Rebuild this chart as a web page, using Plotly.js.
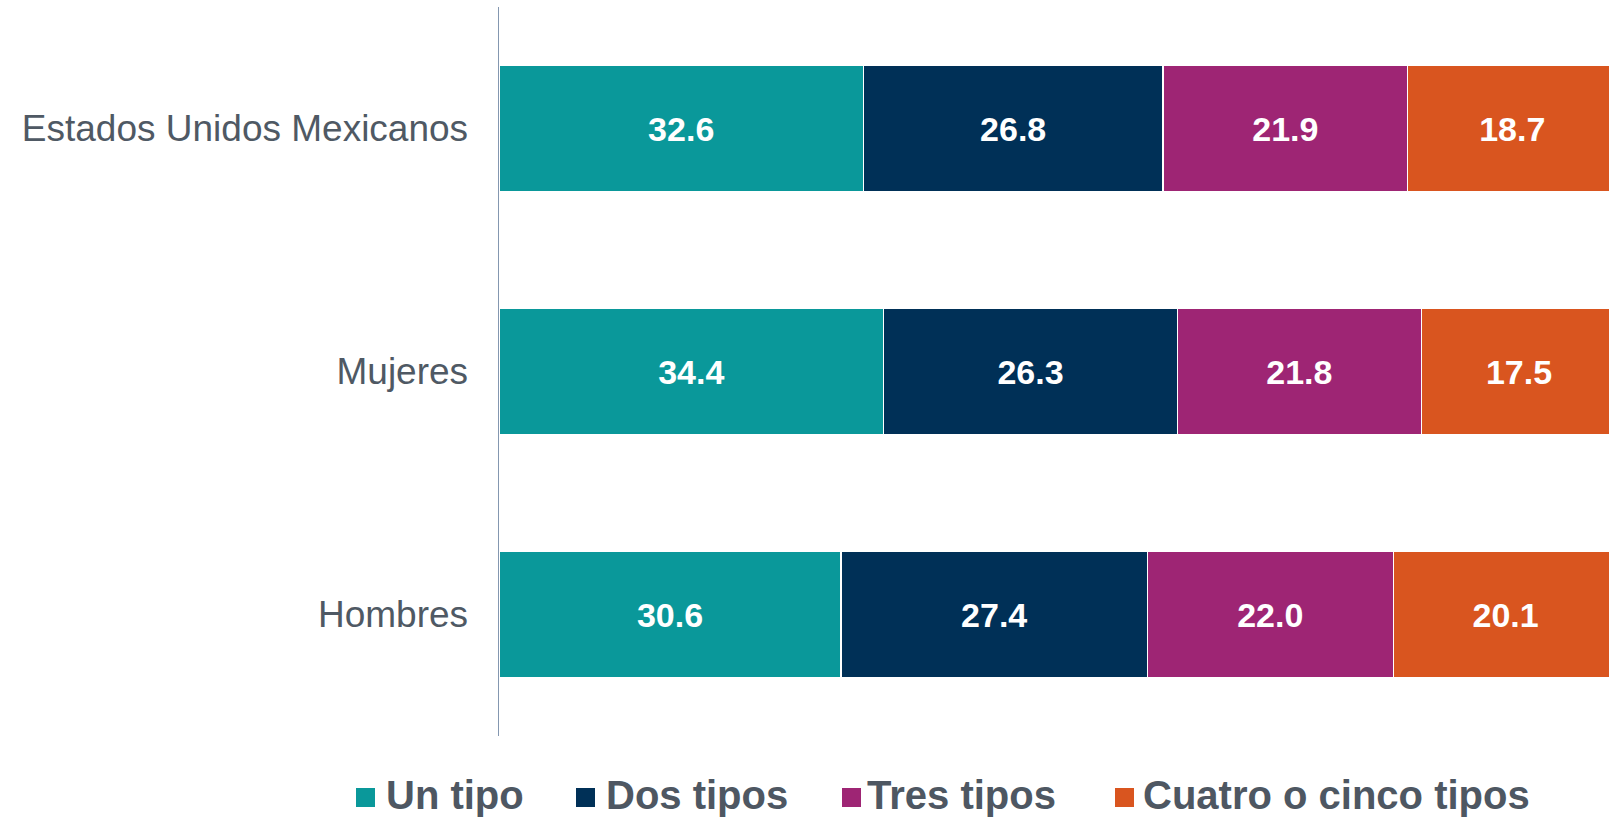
<!DOCTYPE html>
<html>
<head>
<meta charset="utf-8">
<script src="https://cdn.plot.ly/plotly-3.0.1.min.js"></script>
<style>
  html, body { margin: 0; padding: 0; background: #ffffff; }
  #chart { width: 1609px; height: 819px; }
</style>
</head>
<body>
<div id="chart"></div>
<script>
// ---- Data ----
const categories = ["Estados Unidos Mexicanos", "Mujeres", "Hombres"];
const seriesNames = ["Un tipo", "Dos tipos", "Tres tipos", "Cuatro o cinco tipos"];
const unTipo = [32.6, 34.4, 30.6];
const dosTipos = [26.8, 26.3, 27.4];
const tresTipos = [21.9, 21.8, 22.0];
const cuatroCincoTipos = [18.7, 17.5, 20.1];

// ---- Styles ----
const seriesValues = [unTipo, dosTipos, tresTipos, cuatroCincoTipos];
const colors = ["#0A989A", "#003057", "#9E2574", "#D9551F"];
const FONT = "Arial";

const W = 1609, H = 819;
const M = { l: 499, r: 0, t: 7, b: 83 };
const plotW = W - M.l - M.r, plotH = H - M.t - M.b;
const px2x = px => (px - M.l) / plotW;
const px2y = py => (H - M.b - py) / plotH;

const traces = seriesValues.map((vals, i) => ({
  type: "bar",
  orientation: "h",
  name: seriesNames[i],
  y: categories,
  x: vals,
  marker: { color: colors[i], line: { color: "#ffffff", width: 1.2 } },
  texttemplate: "%{x:.1f}",
  textposition: "inside",
  insidetextanchor: "middle",
  constraintext: "none",
  textangle: 0,
  textfont: { family: FONT, size: 34, color: "#ffffff", weight: "bold" },
  hoverinfo: "skip",
  showlegend: false
}));

// custom legend positions (pixels): square left, text left
const legendSquareLeft = [356, 576, 842, 1115];
const legendTextLeft = [385, 605, 866, 1142];
const sqSize = 19, sqTop = 788, legendMid = 795;

const shapes = seriesNames.map((n, i) => ({
  type: "rect", xref: "paper", yref: "paper",
  x0: px2x(legendSquareLeft[i]), x1: px2x(legendSquareLeft[i] + sqSize),
  y0: px2y(sqTop), y1: px2y(sqTop + sqSize),
  fillcolor: colors[i], line: { width: 0 }
}));

const annotations = seriesNames.map((n, i) => ({
  xref: "paper", yref: "paper",
  x: px2x(legendTextLeft[i]), y: px2y(legendMid),
  xanchor: "left", yanchor: "middle",
  text: "<b>" + n + "</b>",
  showarrow: false,
  borderpad: 0,
  font: { family: FONT, size: 40, color: "#4E5762" }
}));

const layout = {
  width: W, height: H,
  margin: M,
  barmode: "stack",
  bargap: 0.477,
  paper_bgcolor: "#ffffff",
  plot_bgcolor: "#ffffff",
  showlegend: false,
  font: { family: FONT },
  xaxis: {
    range: [0, 99.3],
    visible: false,
    showgrid: false,
    zeroline: false,
    fixedrange: true
  },
  yaxis: {
    autorange: "reversed",
    showline: true,
    linecolor: "#8497B0",
    linewidth: 1.5,
    ticks: "",
    showgrid: false,
    zeroline: false,
    ticklabelstandoff: 22,
    tickfont: { family: FONT, size: 37, color: "#4F5964" },
    fixedrange: true
  },
  shapes: shapes,
  annotations: annotations
};

Plotly.newPlot("chart", traces, layout, { displayModeBar: false, staticPlot: true });
</script>
</body>
</html>
